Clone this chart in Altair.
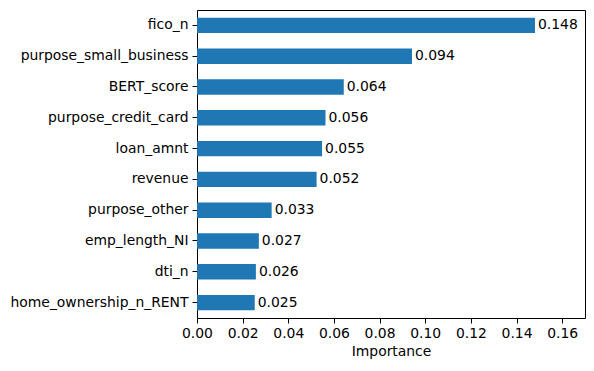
import altair as alt
import pandas as pd

features = ["fico_n", "purpose_small_business", "BERT_score", "purpose_credit_card",
            "loan_amnt", "revenue", "purpose_other", "emp_length_NI", "dti_n",
            "home_ownership_n_RENT"]
importance = [0.1481, 0.0942, 0.0643, 0.0563, 0.0548, 0.0524, 0.0327, 0.0271, 0.0258, 0.0253]

df = pd.DataFrame({"feature": features, "importance": importance})

FONT = "DejaVu Sans"
FS = 13.9

y = alt.Y("feature:N", sort=features, title=None,
          scale=alt.Scale(paddingInner=0.5, paddingOuter=0.25),
          axis=alt.Axis(labelFont=FONT, labelFontSize=FS, labelColor="black",
                        tickColor="black", tickSize=5, labelPadding=4,
                        domain=False, labelLimit=400))
x = alt.X("importance:Q", title="Importance",
          scale=alt.Scale(domain=[0, 0.17], nice=False, zero=True),
          axis=alt.Axis(values=[0, 0.02, 0.04, 0.06, 0.08, 0.10, 0.12, 0.14, 0.16],
                        format=".2f", labelFont=FONT, labelFontSize=FS,
                        labelColor="black", tickColor="black", tickSize=5,
                        labelPadding=3, domain=False, grid=False,
                        titleFont=FONT, titleFontSize=FS, titleFontWeight="normal",
                        titleColor="black", titlePadding=5, labelFlush=False))

bars = alt.Chart(df).mark_bar(color="#1f77b4").encode(x=x, y=y)
labels = alt.Chart(df).mark_text(align="left", baseline="middle", dx=3,
                                 font=FONT, fontSize=FS, color="black").encode(
    x="importance:Q", y=alt.Y("feature:N", sort=features),
    text=alt.Text("importance:Q", format=".3f"))

chart = (bars + labels).properties(
    width=388, height=308,
    autosize=alt.AutoSizeParams(type="none"),
    padding={"left": 189, "top": 2, "right": 1, "bottom": 45},
).configure_view(stroke="black", strokeWidth=1).configure_axis(grid=False)

chart.save("out.html", embed_options={"renderer": "svg", "actions": False})
